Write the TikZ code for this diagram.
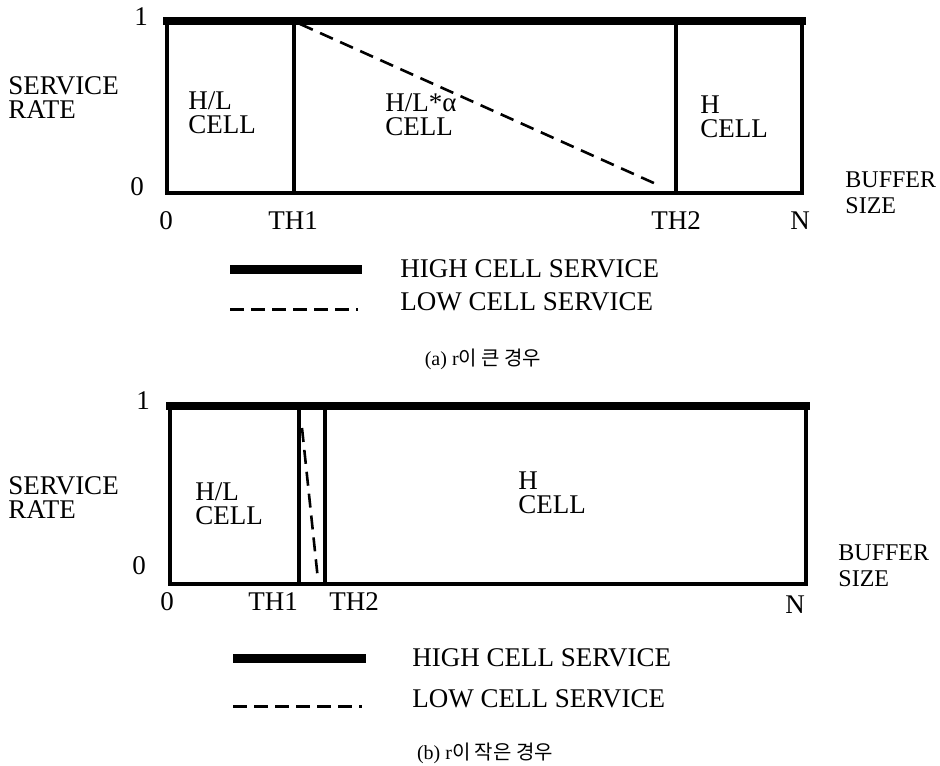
\documentclass[tikz,border=0pt]{standalone}
\usepackage{fontspec}
\setmainfont{Liberation Serif}
\newfontfamily\krfont{Noto Sans CJK KR}
\usetikzlibrary{positioning}

\begin{document}
\begin{tikzpicture}[x=0.5pt,y=-0.5pt,
  lbl/.style={font=\fontsize{13.5}{12}\selectfont,align=left,inner sep=0pt},
  axlbl/.style={font=\fontsize{12}{13}\selectfont,align=left,inner sep=0pt},
  tick/.style={font=\fontsize{13.5}{12}\selectfont,inner sep=0pt},
  captxt/.style={font=\fontsize{10}{12}\selectfont,inner sep=0pt},
  frame/.style={line width=2.4pt,line join=miter},
  hiline/.style={line width=4pt,line cap=rect},
  loline/.style={line width=1.3pt,dash pattern=on 7pt off 4pt},
  keyhi/.style={line width=4.5pt},
  keylo/.style={line width=1.5pt,dash pattern=on 7pt off 3.5pt}]
  \useasboundingbox (0,0) rectangle (940,765);

  % (a) large r
  \coordinate (aTL) at (167,21);
  \coordinate (aTR) at (802,21);
  \coordinate (aBR) at (802,193);
  \coordinate (a1t) at (294,21);
  \coordinate (a1b) at (294,193);
  \coordinate (a2t) at (676,21);
  \coordinate (a2b) at (676,193);
  \draw[frame] (aTL) |- (aBR) -- (aTR);
  \draw[frame] (a1t) -- (a1b);
  \draw[frame] (a2t) -- (a2b);
  \draw[hiline] (aTL) -- (aTR);
  \coordinate (aLs) at (300,24);
  \coordinate (aLe) at (656,184);
  \draw[loline] (aLs) -- (aLe);
  \node[tick] (aOne) at (141,17) {1};
  \node[tick] (aZero) at (137,187) {0};
  \node[tick] (ax0) at (166,221) {0};
  \node[tick] (ath1) at (293,221) {TH1};
  \node[tick] (ath2) at (676,221) {TH2};
  \node[tick] (aN) at (800,221) {N};
  \node[lbl,anchor=west] (arate) at (8,98) {SERVICE\\RATE};
  \node[axlbl,anchor=west] (abuf) at (845,193) {BUFFER\\SIZE};
  \node[lbl,anchor=west] (ahl) at (188,113) {H/L\\CELL};
  \node[lbl,anchor=west] (ahla) at (385,115) {H/L*α\\CELL};
  \node[lbl,anchor=west] (ah) at (700,117) {H\\CELL};
  % legend (a)
  \coordinate (akh1) at (230,269);
  \coordinate (akh2) at (362,269);
  \coordinate (akl1) at (230,309);
  \coordinate (akl2) at (358,309);
  \draw[keyhi] (akh1) -- (akh2);
  \draw[keylo] (akl1) -- (akl2);
  \node[lbl,anchor=west] (ahigh) at (400,269) {HIGH CELL SERVICE};
  \node[lbl,anchor=west] (alow) at (400,302) {LOW CELL SERVICE};
  \node[captxt] (acap) at (483,359) {(a) r{\krfont 이 큰 경우}};

  % (b) small r
  \coordinate (bTL) at (170,406);
  \coordinate (bTR) at (806,406);
  \coordinate (bBR) at (806,584);
  \coordinate (b1t) at (299,406);
  \coordinate (b1b) at (299,584);
  \coordinate (b2t) at (325,406);
  \coordinate (b2b) at (325,584);
  \draw[frame] (bTL) |- (bBR) -- (bTR);
  \draw[frame] (b1t) -- (b1b);
  \draw[frame] (b2t) -- (b2b);
  \draw[hiline] (bTL) -- (bTR);
  \coordinate (bLs) at (302,428);
  \coordinate (bLe) at (318,580);
  \draw[loline] (bLs) -- (bLe);
  \node[tick] (bOne) at (143,401) {1};
  \node[tick] (bZero) at (139,566) {0};
  \node[tick] (bx0) at (167,602) {0};
  \node[tick] (bth1) at (273,602) {TH1};
  \node[tick] (bth2) at (354,602) {TH2};
  \node[tick] (bN) at (795,605) {N};
  \node[lbl,anchor=west] (brate) at (8,498) {SERVICE\\RATE};
  \node[axlbl,anchor=west] (bbuf) at (838,566) {BUFFER\\SIZE};
  \node[lbl,anchor=west] (bhl) at (195,504) {H/L\\CELL};
  \node[lbl,anchor=west] (bh) at (518,493) {H\\CELL};
  % legend (b)
  \coordinate (bkh1) at (233,658);
  \coordinate (bkh2) at (366,658);
  \coordinate (bkl1) at (233,706);
  \coordinate (bkl2) at (362,706);
  \draw[keyhi] (bkh1) -- (bkh2);
  \draw[keylo] (bkl1) -- (bkl2);
  \node[lbl,anchor=west] (bhigh) at (412,658) {HIGH CELL SERVICE};
  \node[lbl,anchor=west] (blow) at (412,699) {LOW CELL SERVICE};
  \node[captxt] (bcap) at (485,753) {(b) r{\krfont 이 작은 경우}};
\end{tikzpicture}
\end{document}
